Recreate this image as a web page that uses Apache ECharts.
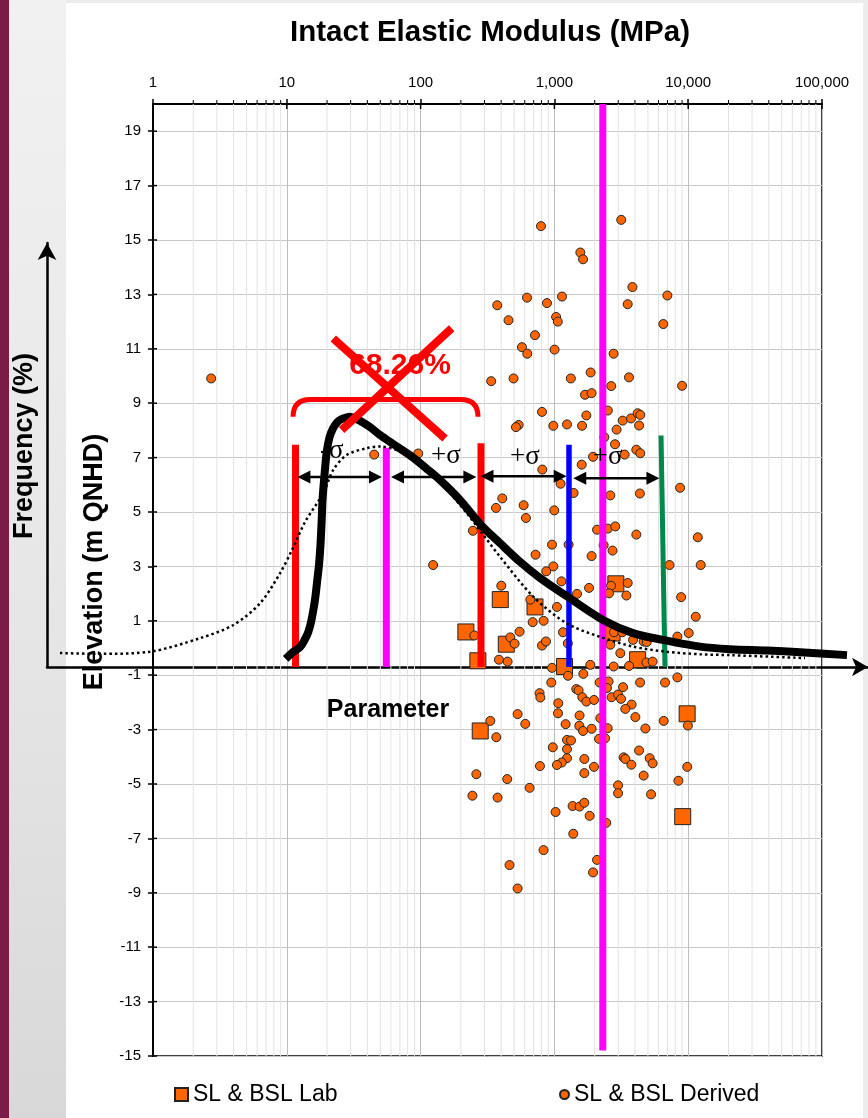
<!DOCTYPE html>
<html>
<head>
<meta charset="utf-8">
<script src="https://cdn.jsdelivr.net/npm/echarts@6/dist/echarts.min.js"></script>
<style>
  html, body { margin: 0; padding: 0; }
  body { width: 868px; height: 1118px; position: relative; overflow: hidden; background: #ececec; }
  #strip { position: absolute; left: 0; top: 0; width: 9px; height: 1118px; background: #7a1b48; }
  #band { position: absolute; left: 9px; top: 0; width: 57px; height: 1118px;
          background: linear-gradient(to bottom, #f1f1f1, #e6e6e6 55%, #d8d8d8); }
  #panel { position: absolute; left: 66px; top: 3px; width: 797px; height: 1115px; background: #fff; }
  #chart { position: absolute; left: 0; top: 0; width: 868px; height: 1118px; }
</style>
</head>
<body>
<div id="strip"></div>
<div id="band"></div>
<div id="panel"></div>
<div id="chart"></div>
<script>
// ---------- Scatter data: [modulus (MPa), elevation (m QNHD)] ----------
const labSamples = [
  [2880, 2.36], [394, 1.78], [716, 1.51], [218, 0.59], [437, 0.14], [268, -0.47],
  [1191, -0.68], [4189, -0.43], [2700, 0.55], [9818, -2.42], [279, -3.05], [9100, -6.20]
];

const derivedSamples = [
  [794, 15.51], [3160, 15.74], [1563, 14.54], [1637, 14.29], [3830, 13.27], [6985, 12.96],
  [374, 12.60], [624, 12.88], [880, 12.68], [1140, 12.92], [3530, 12.64], [454, 12.05],
  [1030, 12.17], [1060, 12.00], [6516, 11.91], [716, 11.50], [572, 11.06], [627, 10.82],
  [1003, 10.97], [2770, 10.82], [337, 9.81], [495, 9.91], [1327, 9.91], [1866, 10.13],
  [3610, 9.95], [9000, 9.64], [2660, 9.63], [1694, 9.31], [1897, 9.37], [808, 8.68],
  [1733, 8.55], [2508, 8.73], [540, 8.20], [516, 8.12], [982, 8.17], [1242, 8.22],
  [1610, 8.17], [3240, 8.36], [3739, 8.44], [4189, 8.63], [4385, 8.57], [4295, 8.18],
  [2917, 8.03], [2838, 7.49], [4095, 7.29], [4385, 7.16], [2360, 7.75], [1944, 7.03],
  [3350, 7.11], [2.72, 9.91], [45, 7.11], [96, 7.15], [124, 3.05],
  [812, 6.56], [1600, 6.74], [1112, 6.04], [1391, 5.70], [2618, 5.61], [4355, 5.68],
  [8696, 5.89], [408, 5.50], [366, 5.15], [589, 5.25], [613, 4.78], [998, 5.06],
  [246, 4.31], [2083, 4.35], [2508, 4.39], [2850, 4.47], [4095, 4.17], [11800, 4.07],
  [960, 3.80], [1277, 3.80], [2333, 3.78], [2720, 3.58], [723, 3.43], [1897, 3.38],
  [982, 3.00], [869, 2.82], [7250, 3.05], [12400, 3.05], [401, 2.29], [1130, 2.45],
  [1815, 2.21], [2650, 2.29], [3530, 2.39], [2560, 2.01], [3451, 1.93], [1476, 1.99],
  [661, 1.78], [1045, 1.51], [8852, 1.87], [11390, 1.15], [688, 0.95], [830, 1.00],
  [549, 0.60], [1159, 0.58], [252, 0.46], [468, 0.39], [504, 0.16], [808, 0.09],
  [865, 0.24], [1260, 0.17], [2618, 0.12], [2790, 0.58], [3220, 0.58], [3870, 0.30],
  [4645, 0.24], [4900, 0.22], [3111, -0.19], [8299, 0.42], [10090, 0.55], [385, -0.43],
  [447, -0.50], [960, -0.73], [1855, -0.62], [2773, -0.68], [3614, -0.66], [4870, -0.53],
  [5423, -0.50], [1264, -1.02], [1645, -0.95], [948, -1.27], [2178, -1.27], [2540, -1.23],
  [2470, -1.47], [3260, -1.44], [4370, -1.27], [6714, -1.27], [8299, -1.08], [775, -1.66],
  [785, -1.82], [1458, -1.51], [1517, -1.56], [1617, -1.81], [1733, -1.97], [1977, -1.91],
  [2677, -1.81], [2991, -1.71], [3147, -1.87], [1069, -2.03], [3777, -2.08], [3390, -2.24],
  [531, -2.43], [1064, -2.40], [1542, -2.48], [2205, -2.58], [4029, -2.54], [6560, -2.68],
  [332, -2.68], [606, -2.79], [1213, -2.80], [1535, -2.86], [1637, -3.05], [1897, -2.97],
  [2500, -2.95], [4786, -2.96], [9950, -2.85], [368, -3.28], [1242, -3.38], [1330, -3.40],
  [2156, -3.34], [2390, -3.32], [973, -3.65], [1242, -3.72], [1242, -4.05], [1135, -4.21],
  [1045, -4.30], [1674, -4.08], [1977, -4.37], [780, -4.34], [3290, -4.02], [3390, -4.08],
  [4295, -3.77], [3760, -4.29], [5152, -4.05], [5423, -4.24], [1674, -4.60], [4645, -4.69],
  [9840, -4.37], [8449, -4.88], [261, -4.64], [444, -4.82], [653, -5.14], [244, -5.43],
  [376, -5.50], [2991, -5.05], [2991, -5.34], [5277, -5.38], [1020, -6.03], [1368, -5.81],
  [1542, -5.83], [1674, -5.69], [1834, -6.17], [2440, -6.43], [1384, -6.83], [830, -7.43],
  [462, -7.98], [531, -8.84], [1944, -8.25], [2083, -7.79]
];

// Mean modulus line across the whole elevation range
const meanModulus = 2300;
const meanLineElevation = [-14.8, 20];

// Axis ranges
const modulusRange = [1, 100000];
const elevationRange = [-15, 20];
const elevationStep = 2;

// Decade and minor log grid values (2..9 within each decade)
const decadeModulus = [1, 10, 100, 1000, 10000, 100000];
const minorModulus = [];
for (let d = 0; d < 5; d++) for (let k = 2; k <= 9; k++) minorModulus.push(k * Math.pow(10, d));
const elevationTicks = [];
for (let e = elevationRange[0]; e < elevationRange[1]; e += elevationStep) elevationTicks.push(e);

// ---------- Schematic frequency distribution: [parameter, frequency %] ----------
const skewedCurve = [
  [29.07, 0.19], [29.96, 0.35], [30.82, 0.47], [31.43, 0.66], [31.83, 0.83], [32.16, 1.06],
  [32.44, 1.34], [32.70, 1.67], [32.92, 2.05], [33.13, 2.41], [33.31, 2.88], [33.46, 3.47],
  [33.56, 3.94], [33.80, 4.53], [34.07, 5.07], [34.41, 5.42], [34.87, 5.64], [35.38, 5.78],
  [35.90, 5.85], [36.42, 5.88], [36.91, 5.90], [37.52, 5.86], [38.12, 5.81], [39.34, 5.66],
  [40.56, 5.47], [41.78, 5.31], [43.00, 5.15], [44.58, 4.94], [46.16, 4.69], [47.87, 4.41],
  [50.30, 3.94], [52.86, 3.35], [55.18, 2.92], [57.61, 2.48], [60.05, 2.10], [63.46, 1.65],
  [67.72, 1.11], [71.38, 0.80], [75.03, 0.64], [79.54, 0.48], [83.19, 0.42], [87.70, 0.39],
  [91.72, 0.35], [97.44, 0.28]
];

const normalCurve = [
  [1.58, 0.33], [6.46, 0.31], [12.55, 0.36], [18.64, 0.68], [22.69, 0.99], [25.94, 1.50],
  [28.38, 2.21], [29.84, 2.76], [31.43, 3.42], [33.65, 4.10], [34.87, 4.65], [36.50, 5.00],
  [38.94, 5.16], [40.56, 5.20], [43.00, 5.09], [45.43, 4.81], [47.87, 4.36], [51.12, 3.63],
  [55.18, 2.60], [59.23, 1.66], [63.30, 1.03], [67.36, 0.71], [71.41, 0.48], [75.48, 0.36],
  [79.54, 0.30], [83.19, 0.28], [92.33, 0.21]
];

// Boundary markers: [x at top, top frequency, x at base, base frequency]
const boundaryLines = [
  [30.27, 5.24, 30.27, 0],   // -sigma
  [41.33, 5.17, 41.33, 0],   // mean
  [52.86, 5.28, 52.86, 0],   // +sigma
  [63.58, 5.24, 63.58, 0],   // +2 sigma
  [74.79, 5.46, 75.27, 0]    // +3 sigma
];
const boundaryColors = ['#ff0000', '#ff00ff', '#ff0000', '#0000ff', '#00894b'];
const boundaryWidths = [7, 7, 7, 5.5, 5];

// Double-headed spans: [from, to, frequency level]
const sigmaSpans = [
  [30.5, 40.8, 4.48], [41.9, 52.3, 4.48], [52.8, 63.3, 4.50], [64.1, 74.6, 4.45]
];
const sigmaLabels = ['-σ', '+σ', '+σ', '+σ'];
const sigmaLabelPos = [[34.7, 5.09], [48.6, 4.98], [58.2, 4.95], [68.3, 4.95]];

// Bracket over the +/- one sigma band: [from, to, base, top]
const bandBracket = [[29.97, 52.5, 5.90, 6.31]];
const bandShare = [[43.0, 7.10, '68.26%']];
const strikeThrough = [[34.87, 7.75, 48.48, 5.39], [49.29, 7.99, 35.89, 5.59]];

// ---------- Rendering ----------
const FONT = '"Liberation Sans", Arial, Helvetica, sans-serif';
const SERIF = '"Liberation Serif", "Times New Roman", serif';
const ORANGE = '#ff6600';

function renderMinorGrid(params, api) {
  const v = api.value(0);
  const top = api.coord([v, elevationRange[1]]);
  const bot = api.coord([v, elevationRange[0]]);
  return {
    type: 'group',
    children: [
      { type: 'line', shape: { x1: top[0], y1: top[1], x2: bot[0], y2: bot[1] },
        style: { stroke: '#e2e2e2', lineWidth: 1 } },
      { type: 'line', shape: { x1: top[0], y1: top[1], x2: top[0], y2: top[1] - 4 },
        style: { stroke: '#000', lineWidth: 1 } }
    ]
  };
}

// inner halves of the crossing major ticks
function renderDecadeTick(params, api) {
  const p = api.coord([api.value(0), elevationRange[1]]);
  return { type: 'line', shape: { x1: p[0], y1: p[1], x2: p[0], y2: p[1] + 5 },
           style: { stroke: '#000', lineWidth: 1.5 } };
}
function renderElevationTick(params, api) {
  const p = api.coord([modulusRange[0], api.value(1)]);
  return { type: 'line', shape: { x1: p[0], y1: p[1], x2: p[0] + 4, y2: p[1] },
           style: { stroke: '#000', lineWidth: 1.5 } };
}

function renderBoundary(params, api) {
  const a = api.coord([api.value(0), api.value(1)]);
  const b = api.coord([api.value(2), api.value(3)]);
  return {
    type: 'line',
    shape: { x1: a[0], y1: a[1], x2: b[0], y2: b[1] },
    style: { stroke: boundaryColors[params.dataIndex], lineWidth: boundaryWidths[params.dataIndex] }
  };
}

function renderSpan(params, api) {
  const y = api.value(2);
  const a = api.coord([api.value(0), y]);
  const b = api.coord([api.value(1), y]);
  const L = 13, H = 6.5;
  return {
    type: 'group',
    children: [
      { type: 'line', shape: { x1: a[0] + L - 1, y1: a[1], x2: b[0] - L + 1, y2: b[1] },
        style: { stroke: '#000', lineWidth: 2.5 } },
      { type: 'polygon', shape: { points: [[a[0], a[1]], [a[0] + L, a[1] - H], [a[0] + L, a[1] + H]] },
        style: { fill: '#000' } },
      { type: 'polygon', shape: { points: [[b[0], b[1]], [b[0] - L, b[1] - H], [b[0] - L, b[1] + H]] },
        style: { fill: '#000' } }
    ]
  };
}

function renderSigmaLabel(params, api) {
  const p = api.coord([api.value(0), api.value(1)]);
  return {
    type: 'text', x: p[0], y: p[1],
    style: { text: sigmaLabels[params.dataIndex], font: '27px ' + SERIF, fill: '#000',
             align: 'center', verticalAlign: 'middle', textAlign: 'center', textVerticalAlign: 'middle' }
  };
}

function renderBracket(params, api) {
  const p0 = api.coord([api.value(0), api.value(2)]);
  const p1 = api.coord([api.value(1), api.value(2)]);
  const t = api.coord([api.value(0), api.value(3)])[1];
  const r = p0[1] - t;
  const d = 'M' + p0[0] + ' ' + p0[1] +
            ' Q' + p0[0] + ' ' + t + ' ' + (p0[0] + r) + ' ' + t +
            ' L' + (p1[0] - r) + ' ' + t +
            ' Q' + p1[0] + ' ' + t + ' ' + p1[0] + ' ' + p1[1];
  return { type: 'path', shape: { pathData: d }, style: { stroke: '#ff0000', lineWidth: 5, fill: 'none' } };
}

function renderShare(params, api) {
  const p = api.coord([api.value(0), api.value(1)]);
  return {
    type: 'text', x: p[0], y: p[1],
    style: { text: bandShare[params.dataIndex][2], font: 'bold 30px ' + FONT, fill: '#ff0000',
             align: 'center', verticalAlign: 'middle', textAlign: 'center', textVerticalAlign: 'middle' }
  };
}

function renderStrike(params, api) {
  const a = api.coord([api.value(0), api.value(1)]);
  const b = api.coord([api.value(2), api.value(3)]);
  return { type: 'line', shape: { x1: a[0], y1: a[1], x2: b[0], y2: b[1] },
           style: { stroke: '#ff0000', lineWidth: 8 } };
}

const chart = echarts.init(document.getElementById('chart'), null, { renderer: 'canvas' });

const option = {
  animation: false,
  backgroundColor: 'transparent',
  grid: [
    { left: 153, top: 104, width: 669, height: 952, show: true,
      borderColor: '#000', borderWidth: 1.5, backgroundColor: 'transparent' },
    { left: 47, top: 243, width: 821, height: 424, show: false }
  ],
  xAxis: [
    {
      type: 'log', logBase: 10, gridIndex: 0, position: 'top',
      min: modulusRange[0], max: modulusRange[1],
      axisLine: { show: true, onZero: false, lineStyle: { color: '#000', width: 2 } },
      axisTick: { show: true, length: 5, lineStyle: { color: '#000', width: 1.5 } },
      axisLabel: { color: '#000', fontSize: 15, fontFamily: FONT, margin: 14,
                   formatter: v => Math.round(v).toLocaleString('en-US') },
      splitLine: { show: true, lineStyle: { color: '#bdbdbd', width: 1 } }
    },
    {
      type: 'value', gridIndex: 1, min: 0, max: 100, position: 'bottom',
      axisLine: { show: true, onZero: false, symbol: ['none', 'arrow'], symbolSize: [14, 16],
                  lineStyle: { color: '#000', width: 2.5 } },
      axisTick: { show: false }, axisLabel: { show: false }, splitLine: { show: false }
    }
  ],
  yAxis: [
    {
      type: 'value', gridIndex: 0,
      min: elevationRange[0], max: elevationRange[1], interval: elevationStep,
      axisLine: { show: true, onZero: false, lineStyle: { color: '#000', width: 2 } },
      axisTick: { show: true, length: 5, lineStyle: { color: '#000', width: 1.5 } },
      axisLabel: { color: '#000', fontSize: 15, fontFamily: FONT, margin: 12, showMaxLabel: false },
      splitLine: { show: true, lineStyle: { color: '#c8c8c8', width: 1 } }
    },
    {
      type: 'value', gridIndex: 1, min: 0, max: 10,
      axisLine: { show: true, onZero: false, symbol: ['none', 'arrow'], symbolSize: [14, 17],
                  lineStyle: { color: '#000', width: 2.5 } },
      axisTick: { show: false }, axisLabel: { show: false }, splitLine: { show: false }
    }
  ],
  legend: [
    { data: [{ name: 'SL & BSL Lab', icon: 'rect' }], left: 169, top: 1078,
      itemWidth: 13, itemHeight: 13, itemGap: 0, selectedMode: false,
      textStyle: { color: '#000', fontSize: 23, fontFamily: FONT } },
    { data: [{ name: 'SL & BSL Derived', icon: 'circle' }], left: 554, top: 1078,
      itemWidth: 9, itemHeight: 10, itemGap: 0, selectedMode: false,
      textStyle: { color: '#000', fontSize: 23, fontFamily: FONT } }
  ],
  series: [
    { type: 'custom', xAxisIndex: 0, yAxisIndex: 0, z: 1, silent: true, clip: false,
      data: minorModulus.map(v => [v, 0]), renderItem: renderMinorGrid },
    { type: 'custom', xAxisIndex: 0, yAxisIndex: 0, z: 1, silent: true, clip: false,
      data: decadeModulus.map(v => [v, 0]), renderItem: renderDecadeTick },
    { type: 'custom', xAxisIndex: 0, yAxisIndex: 0, z: 1, silent: true, clip: false,
      data: elevationTicks.map(e => [modulusRange[0], e]), renderItem: renderElevationTick },
    { name: 'SL & BSL Lab', type: 'scatter', xAxisIndex: 0, yAxisIndex: 0, z: 3,
      symbol: 'rect', symbolSize: 16, data: labSamples,
      itemStyle: { color: ORANGE, borderColor: '#222', borderWidth: 1, opacity: 1 } },
    { name: 'SL & BSL Derived', type: 'scatter', xAxisIndex: 0, yAxisIndex: 0, z: 4,
      symbol: 'circle', symbolSize: 9, data: derivedSamples,
      itemStyle: { color: ORANGE, borderColor: '#222', borderWidth: 1, opacity: 1 } },
    { type: 'line', xAxisIndex: 0, yAxisIndex: 0, z: 5, silent: true, showSymbol: false,
      data: meanLineElevation.map(e => [meanModulus, e]),
      lineStyle: { color: '#ff00ff', width: 7 } },
    { type: 'custom', xAxisIndex: 1, yAxisIndex: 1, z: 6, silent: true, clip: false,
      data: boundaryLines, renderItem: renderBoundary },
    { type: 'line', xAxisIndex: 1, yAxisIndex: 1, z: 7, silent: true, showSymbol: false,
      smooth: 0.3, data: normalCurve,
      lineStyle: { color: '#000', width: 2.5, type: [2.5, 3] } },
    { type: 'line', xAxisIndex: 1, yAxisIndex: 1, z: 8, silent: true, showSymbol: false,
      smooth: 0.3, data: skewedCurve,
      lineStyle: { color: '#000', width: 8 } },
    { type: 'custom', xAxisIndex: 1, yAxisIndex: 1, z: 9, silent: true, clip: false,
      data: sigmaSpans, renderItem: renderSpan },
    { type: 'custom', xAxisIndex: 1, yAxisIndex: 1, z: 9, silent: true, clip: false,
      data: sigmaLabelPos, renderItem: renderSigmaLabel },
    { type: 'custom', xAxisIndex: 1, yAxisIndex: 1, z: 9, silent: true, clip: false,
      data: bandBracket, renderItem: renderBracket },
    { type: 'custom', xAxisIndex: 1, yAxisIndex: 1, z: 9, silent: true, clip: false,
      data: bandShare.map(r => [r[0], r[1]]), renderItem: renderShare },
    { type: 'custom', xAxisIndex: 1, yAxisIndex: 1, z: 10, silent: true, clip: false,
      data: strikeThrough, renderItem: renderStrike }
  ],
  graphic: [
    { type: 'text', x: 490, y: 33, z: 100,
      style: { text: 'Intact Elastic Modulus (MPa)', font: 'bold 29.5px ' + FONT, fill: '#000',
               textAlign: 'center', textVerticalAlign: 'middle', align: 'center', verticalAlign: 'middle' } },
    { type: 'text', x: 388, y: 710, z: 100,
      style: { text: 'Parameter', font: 'bold 25px ' + FONT, fill: '#000',
               textAlign: 'center', textVerticalAlign: 'middle', align: 'center', verticalAlign: 'middle' } },
    { type: 'text', x: 95, y: 562, z: 100, rotation: Math.PI / 2,
      style: { text: 'Elevation (m QNHD)', font: 'bold 27px ' + FONT, fill: '#000',
               textAlign: 'center', textVerticalAlign: 'middle', align: 'center', verticalAlign: 'middle' } },
    { type: 'text', x: 25, y: 446, z: 100, rotation: Math.PI / 2,
      style: { text: 'Frequency (%)', font: 'bold 27px ' + FONT, fill: '#000',
               textAlign: 'center', textVerticalAlign: 'middle', align: 'center', verticalAlign: 'middle' } }
  ]
};

chart.setOption(option);
</script>
</body>
</html>
